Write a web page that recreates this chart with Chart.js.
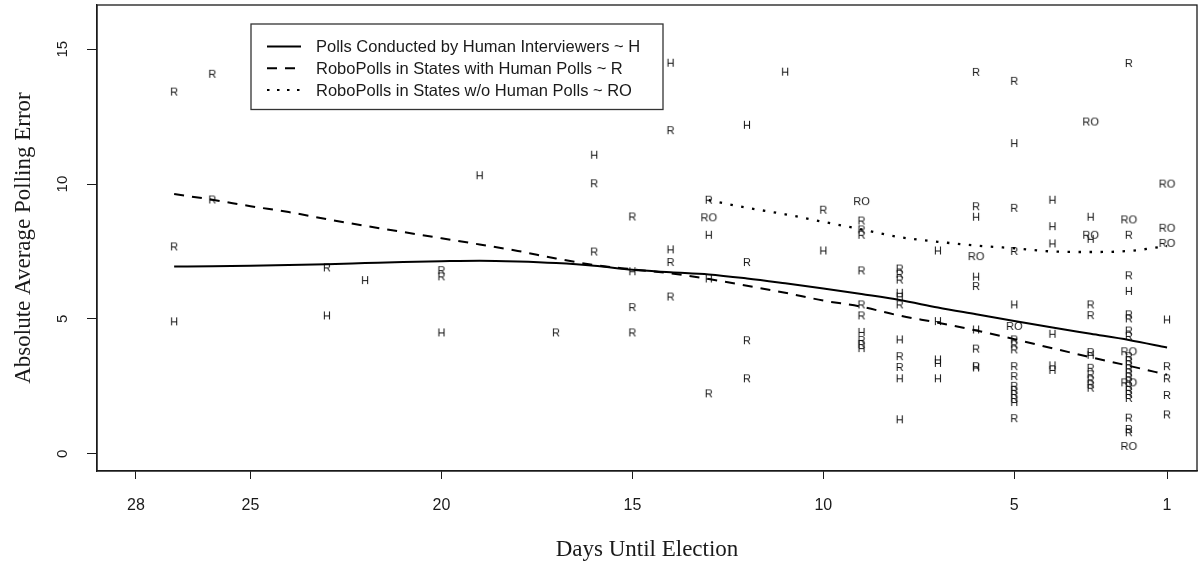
<!DOCTYPE html>
<html>
<head>
<meta charset="utf-8">
<script src="https://cdn.jsdelivr.net/npm/chart.js@4/dist/chart.umd.min.js"></script>
<style>html,body{margin:0;padding:0;background:#fff;}</style>
</head>
<body>
<canvas id="c" width="1202" height="562"></canvas>
<script>
// ---------- DATA ----------
const xTickLabels = [28, 25, 20, 15, 10, 5, 1];
const yTickLabels = [0, 5, 10, 15];

const seriesNames = [
  'Polls Conducted by Human Interviewers ~ H',
  'RoboPolls in States with Human Polls ~ R',
  'RoboPolls in States w/o Human Polls ~ RO'
];

// [days until election, absolute average polling error]
const hPolls = [
  [27,4.89],[23,5.11],[22,6.42],[20,4.48],[19,10.31],[16,11.07],[15,6.75],
  [14,14.48],[14,7.56],[13,8.1],[13,6.48],[12,12.18],[11,14.15],[10,7.52],
  [9,4.5],[9,3.9],
  [8,5.95],[8,5.82],[8,4.22],[8,2.78],[8,1.26],
  [7,7.52],[7,4.9],[7,3.48],[7,3.35],[7,2.78],
  [6,8.77],[6,6.55],[6,4.59],[6,3.18],
  [5,11.5],[5,5.52],[5,1.9],
  [4,9.4],[4,8.42],[4,7.78],[4,4.43],[4,3.26],[4,3.09],
  [3,8.77],[3,7.95],[3,3.65],
  [2,6.02],[1,4.96]
];
const rPolls = [
  [27,13.41],[27,7.67],[26,14.07],[26,9.41],[23,6.89],[20,6.79],[20,6.56],[17,4.48],
  [16,10.01],[16,7.48],[15,8.78],[15,5.42],[15,4.48],[14,11.98],[14,7.09],[14,5.81],
  [13,9.4],[13,2.22],[12,7.09],[12,4.19],[12,2.78],[10,9.03],
  [9,8.63],[9,8.3],[9,8.1],[9,6.78],[9,5.52],[9,5.11],[9,4.2],[9,4.05],
  [8,6.85],[8,6.65],[8,6.44],[8,5.52],[8,3.6],[8,3.2],
  [6,14.14],[6,9.16],[6,6.2],[6,3.88],[6,3.23],
  [5,13.81],[5,9.1],[5,7.5],[5,4.22],[5,4.04],[5,3.85],[5,3.23],[5,2.86],[5,2.5],[5,2.35],[5,2.2],[5,2.05],[5,1.3],
  [3,5.52],[3,5.12],[3,3.75],[3,3.17],[3,2.93],[3,2.74],[3,2.56],[3,2.43],
  [2,14.47],[2,8.1],[2,6.6],[2,5.15],[2,5.0],[2,4.55],[2,4.35],[2,3.6],[2,3.45],[2,3.3],[2,3.15],[2,3.0],[2,2.85],[2,2.7],[2,2.5],[2,2.35],[2,2.2],[2,2.05],[2,1.32],[2,0.9],[2,0.78],
  [1,3.23],[1,2.78],[1,2.16],[1,1.44]
];
const roPolls = [
  [13,8.75],[9,9.35],[6,7.31],[5,4.72],[3,12.3],[3,8.1],
  [2,8.67],[2,3.78],[2,2.63],[2,0.27],[1,10.0],[1,8.36],[1,7.8]
];

// smoothed trend curves
const curveDays = [27,26,25,24,23,22,21,20,19,18,17,16,15,14,13,12,11,10,9,8,7,6,5,4,3,2,1];
const curveH = [6.94,6.95,6.97,7.0,7.03,7.07,7.11,7.14,7.16,7.13,7.07,6.97,6.82,6.73,6.65,6.5,6.32,6.13,5.92,5.7,5.42,5.17,4.92,4.68,4.45,4.22,3.94];
const curveR = [9.63,9.42,9.18,8.96,8.7,8.45,8.22,7.99,7.76,7.52,7.24,7.0,6.84,6.69,6.48,6.23,5.97,5.68,5.45,5.12,4.86,4.57,4.25,3.91,3.58,3.26,2.93];
const curveRODays = [13,12,11,10,9,8,7,6,5,4,3,2,1];
const curveRO = [9.4,9.12,8.88,8.6,8.32,8.03,7.86,7.72,7.62,7.5,7.48,7.52,7.7];

// ---------- RENDER ----------
const INK = '#1a1a1a';
const LABEL_FONT = "11px 'Liberation Sans', Arial, sans-serif";

function textMarker(txt) {
  const m = document.createElement('canvas').getContext('2d');
  m.font = LABEL_FONT;
  const w = Math.ceil(m.measureText(txt).width) + 2;
  const cv = document.createElement('canvas');
  cv.width = w; cv.height = 13;
  const g = cv.getContext('2d');
  g.font = LABEL_FONT;
  g.fillStyle = '#141414';
  g.textAlign = 'center';
  g.textBaseline = 'middle';
  g.fillText(txt, w / 2, 7);
  return cv;
}

const toXY = arr => arr.map(p => ({x: p[0], y: p[1]}));
const curve = (xs, ys) => xs.map((x, i) => ({x: x, y: ys[i]}));

const lineBase = {
  type: 'line', borderColor: '#000', borderWidth: 2, pointRadius: 0,
  fill: false, cubicInterpolationMode: 'monotone', order: 0
};
const ptBase = {
  type: 'scatter', showLine: false, pointRadius: 4, order: 1
};

const boxAndLabels = {
  id: 'boxAndLabels',
  afterDraw(chart) {
    const ctx = chart.ctx;
    const a = chart.chartArea;
    const ys = chart.scales.y;
    ctx.save();
    // plot box
    ctx.strokeStyle = INK;
    ctx.lineWidth = 1.3;
    ctx.strokeRect(a.left, a.top, a.right - a.left, a.bottom - a.top);
    // rotated y tick labels
    ctx.fillStyle = INK;
    ctx.font = "15px 'Liberation Sans', Arial, sans-serif";
    ctx.textAlign = 'center';
    ctx.textBaseline = 'middle';
    yTickLabels.forEach(v => {
      const py = ys.getPixelForValue(v);
      ctx.save();
      ctx.translate(63, py);
      ctx.rotate(-Math.PI / 2);
      ctx.fillText(String(v), 0, 0);
      ctx.restore();
    });
    // legend
    const L = 251, T = 24, R = 663, B = 109.5;
    ctx.fillStyle = '#fff';
    ctx.fillRect(L, T, R - L, B - T);
    ctx.strokeStyle = '#333';
    ctx.lineWidth = 1.3;
    ctx.strokeRect(L, T, R - L, B - T);
    const rows = [46.5, 68.3, 90];
    const dashes = [[], [10, 8], [2.5, 7.5]];
    ctx.font = "16.5px 'Liberation Sans', Arial, sans-serif";
    ctx.textAlign = 'left';
    ctx.textBaseline = 'middle';
    rows.forEach((ry, i) => {
      ctx.strokeStyle = '#000';
      ctx.lineWidth = 2;
      ctx.setLineDash(dashes[i]);
      ctx.beginPath();
      ctx.moveTo(267, ry);
      ctx.lineTo(301, ry);
      ctx.stroke();
      ctx.setLineDash([]);
      ctx.fillStyle = INK;
      ctx.fillText(seriesNames[i], 316, ry + 1);
    });
    ctx.restore();
  }
};

new Chart(document.getElementById('c'), {
  data: {
    datasets: [
      Object.assign({}, lineBase, {label: seriesNames[0], data: curve(curveDays, curveH)}),
      Object.assign({}, lineBase, {label: seriesNames[1], data: curve(curveDays, curveR), borderDash: [10, 8]}),
      Object.assign({}, lineBase, {label: seriesNames[2], data: curve(curveRODays, curveRO), borderDash: [2.5, 8.5], borderWidth: 2.3, borderCapStyle: 'butt'}),
      Object.assign({}, ptBase, {label: 'H', data: toXY(hPolls), pointStyle: textMarker('H')}),
      Object.assign({}, ptBase, {label: 'R', data: toXY(rPolls), pointStyle: textMarker('R')}),
      Object.assign({}, ptBase, {label: 'RO', data: toXY(roPolls), pointStyle: textMarker('RO')})
    ]
  },
  options: {
    responsive: false,
    animation: false,
    devicePixelRatio: 1,
    events: [],
    layout: {padding: {left: 0, right: 3, top: 5, bottom: 0}},
    plugins: {legend: {display: false}, tooltip: {enabled: false}},
    scales: {
      x: {
        type: 'linear', position: 'bottom', reverse: true,
        min: 0.216, max: 29.02,
        afterBuildTicks: s => { s.ticks = xTickLabels.map(v => ({value: v})); },
        afterFit: s => { s.height = 91; },
        grid: {drawOnChartArea: false, drawTicks: true, tickLength: 8, color: INK, lineWidth: 1},
        border: {display: true, color: INK, width: 1.3},
        ticks: {
          autoSkip: false, maxRotation: 0, minRotation: 0, padding: 17, color: INK,
          font: {family: "'Liberation Sans', Arial, sans-serif", size: 16},
          callback: v => String(v)
        },
        title: {
          display: true, text: 'Days Until Election', color: INK,
          font: {family: "'Liberation Serif', 'Times New Roman', serif", size: 23},
          padding: {top: 0, bottom: -2}
        }
      },
      y: {
        type: 'linear', position: 'left',
        min: -0.64, max: 16.64,
        afterBuildTicks: s => { s.ticks = yTickLabels.map(v => ({value: v})); },
        afterFit: s => { s.width = 97; },
        grid: {drawOnChartArea: false, drawTicks: true, tickLength: 10, color: INK, lineWidth: 1},
        border: {display: true, color: INK, width: 1.3},
        ticks: {display: false},
        title: {
          display: true, text: 'Absolute Average Polling Error', color: INK,
          font: {family: "'Liberation Serif', 'Times New Roman', serif", size: 23},
          padding: {top: 10, bottom: 0}
        }
      }
    }
  },
  plugins: [boxAndLabels]
});
</script>
</body>
</html>
